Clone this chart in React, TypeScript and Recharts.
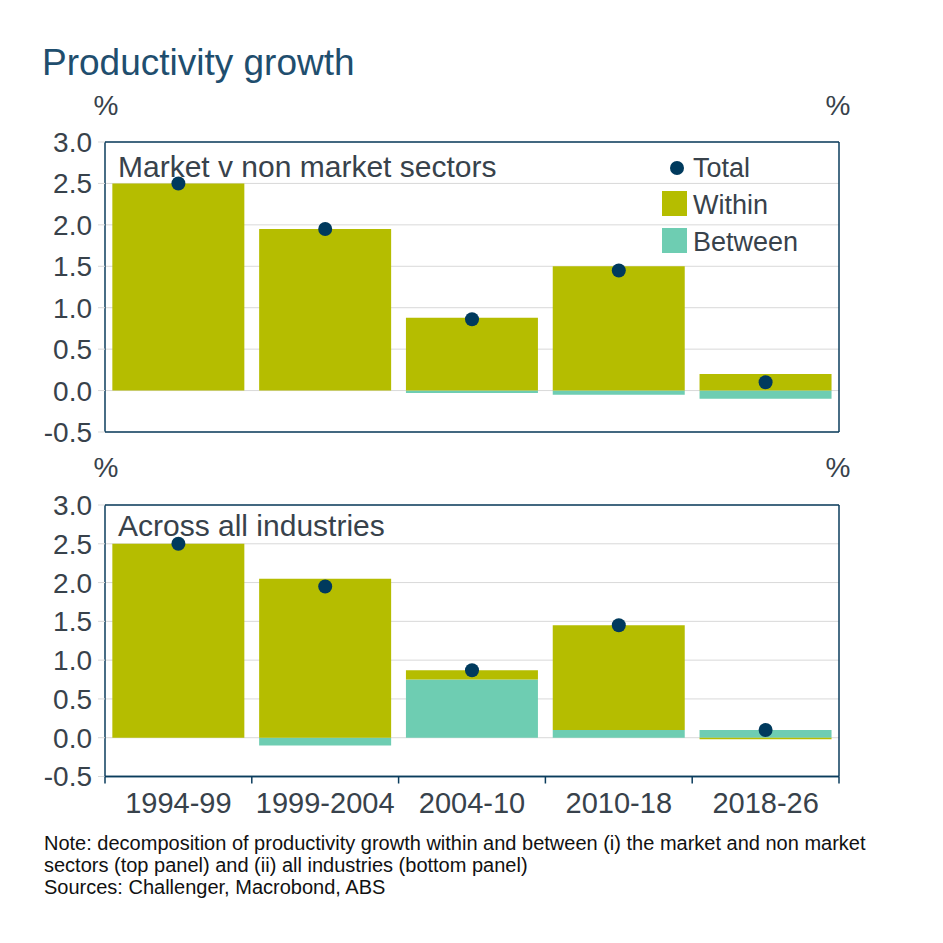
import React from "react";
import {
  Bar,
  CartesianGrid,
  ComposedChart,
  ReferenceLine,
  Scatter,
  XAxis,
  YAxis,
} from "recharts";

const categories = ["1994-99", "1999-2004", "2004-10", "2010-18", "2018-26"];

// top panel: market v non market sectors
const marketWithin = [2.5, 1.95, 0.88, 1.5, 0.2];
const marketBetween = [0, 0, -0.03, -0.05, -0.1];
const marketTotal = [2.5, 1.95, 0.86, 1.45, 0.1];

// bottom panel: across all industries
const industryWithin = [2.5, 2.05, 0.12, 1.35, -0.02];
const industryBetween = [0, -0.1, 0.75, 0.1, 0.1];
const industryTotal = [2.5, 1.95, 0.87, 1.45, 0.1];

const yTicks = [-0.5, 0, 0.5, 1, 1.5, 2, 2.5, 3];

const FONT = '"Liberation Sans", Arial, sans-serif';
const NAVY = "#0b3c5d";
const DOT = "#003a5d";
const WITHIN = "#b5bd00";
const BETWEEN = "#6ecdb2";
const GRID = "#d9d9d9";
const TEXT = "#38424b";

const makeRows = (within: number[], between: number[], total: number[]) =>
  categories.map((name, i) => ({
    name,
    within: within[i],
    between: between[i],
    total: total[i],
  }));

const topRows = makeRows(marketWithin, marketBetween, marketTotal);
const bottomRows = makeRows(industryWithin, industryBetween, industryTotal);

const tickStyle = { fontSize: 28, fill: TEXT, fontFamily: FONT };

const Dot = (props: any) => {
  if (props.cx == null || props.cy == null) return null;
  return <circle cx={props.cx} cy={props.cy} r={7} fill={DOT} />;
};

// category label plus a tick mark on each category boundary
const CategoryTick = (props: any) => {
  const { x, y, payload, index, visibleTicksCount } = props;
  const band = (props.width ?? 734) / visibleTicksCount;
  const left = x - band / 2;
  const right = x + band / 2;
  return (
    <g>
      <line x1={left} x2={left} y1={y} y2={y + 7} stroke={NAVY} strokeWidth={1.5} />
      {index === visibleTicksCount - 1 && (
        <line x1={right} x2={right} y1={y} y2={y + 7} stroke={NAVY} strokeWidth={1.5} />
      )}
      <text x={x} y={y + 16} dy="0.71em" textAnchor="middle" {...tickStyle} fontSize={29}>
        {payload.value}
      </text>
    </g>
  );
};

function Panel({
  rows,
  height,
  top,
  marginTop,
  marginBottom,
  showLabels,
}: {
  rows: any[];
  height: number;
  top: number;
  marginTop: number;
  marginBottom: number;
  showLabels: boolean;
}) {
  return (
    <div style={{ position: "absolute", left: 0, top }}>
      <ComposedChart
        width={943}
        height={height}
        data={rows}
        stackOffset="sign"
        barCategoryGap="5%"
        margin={{ top: marginTop, right: 0, bottom: marginBottom, left: 0 }}
      >
        <CartesianGrid vertical={false} stroke={GRID} yAxisId="left" xAxisId="cat" />
        <XAxis
          xAxisId="cat"
          dataKey="name"
          height={showLabels ? 50 : 0}
          tick={showLabels ? <CategoryTick /> : false}
          tickLine={false}
          tickSize={0}
          tickMargin={0}
          interval={0}
          axisLine={{ stroke: NAVY, strokeWidth: 1.5 }}
        />
        <YAxis
          yAxisId="left"
          orientation="left"
          width={105}
          domain={[-0.5, 3]}
          ticks={yTicks}
          interval={0}
          tick={tickStyle}
          tickSize={7}
          tickMargin={6}
          tickLine={{ stroke: GRID }}
          axisLine={{ stroke: NAVY, strokeWidth: 1.5 }}
          tickFormatter={(v: number) => v.toFixed(1)}
        />
        <YAxis
          yAxisId="right"
          orientation="right"
          width={104}
          domain={[-0.5, 3]}
          ticks={yTicks}
          interval={0}
          tick={tickStyle}
          tickSize={7}
          tickMargin={8}
          tickLine={{ stroke: GRID }}
          axisLine={{ stroke: NAVY, strokeWidth: 1.5 }}
          tickFormatter={(v: number) => v.toFixed(1)}
        />
        <Bar
          dataKey="between"
          stackId="a"
          xAxisId="cat"
          yAxisId="left"
          fill={BETWEEN}
          isAnimationActive={false}
        />
        <Bar
          dataKey="within"
          stackId="a"
          xAxisId="cat"
          yAxisId="left"
          fill={WITHIN}
          isAnimationActive={false}
        />
        <ReferenceLine y={3} xAxisId="cat" yAxisId="left" stroke={NAVY} strokeWidth={1.5} />
        <ReferenceLine y={-0.5} xAxisId="cat" yAxisId="left" stroke={NAVY} strokeWidth={1.5} />
        <Scatter
          dataKey="total"
          xAxisId="cat"
          yAxisId="left"
          fill={DOT}
          shape={Dot}
          isAnimationActive={false}
        />
      </ComposedChart>
    </div>
  );
}

export default function App() {
  return (
    <div
      style={{
        position: "absolute",
        left: 0,
        top: 0,
        width: 943,
        height: 943,
        background: "#fff",
        fontFamily: FONT,
      }}
    >
      <Panel rows={topRows} top={0} height={450} marginTop={142} marginBottom={18} showLabels={false} />
      <Panel rows={bottomRows} top={460} height={380} marginTop={45} marginBottom={13.5} showLabels={true} />
      <svg
        width={943}
        height={943}
        style={{ position: "absolute", left: 0, top: 0, pointerEvents: "none" }}
        fontFamily={FONT}
      >
        <text x={42} y={75} fontSize={37} fill="#1f4e6e">
          Productivity growth
        </text>
        <text x={106} y={115} fontSize={28} fill={TEXT} textAnchor="middle">%</text>
        <text x={838} y={115} fontSize={28} fill={TEXT} textAnchor="middle">%</text>
        <text x={106} y={477} fontSize={28} fill={TEXT} textAnchor="middle">%</text>
        <text x={838} y={477} fontSize={28} fill={TEXT} textAnchor="middle">%</text>
        <text x={118} y={177} fontSize={30} fill={TEXT}>Market v non market sectors</text>
        <text x={118} y={536} fontSize={30} fill={TEXT}>Across all industries</text>
        <circle cx={677} cy={168} r={7} fill={DOT} />
        <text x={693} y={177} fontSize={27} fill={TEXT}>Total</text>
        <rect x={662} y={191} width={25} height={25} fill={WITHIN} />
        <text x={693} y={214} fontSize={27} fill={TEXT}>Within</text>
        <rect x={662} y={228} width={25} height={25} fill={BETWEEN} />
        <text x={693} y={251} fontSize={27} fill={TEXT}>Between</text>
        <g fontSize={20} fill="#111">
          <text x={44} y={850}>
            Note: decomposition of productivity growth within and between (i) the market and non market
          </text>
          <text x={44} y={872}>sectors (top panel) and (ii) all industries (bottom panel)</text>
          <text x={44} y={894}>Sources: Challenger, Macrobond, ABS</text>
        </g>
      </svg>
    </div>
  );
}
